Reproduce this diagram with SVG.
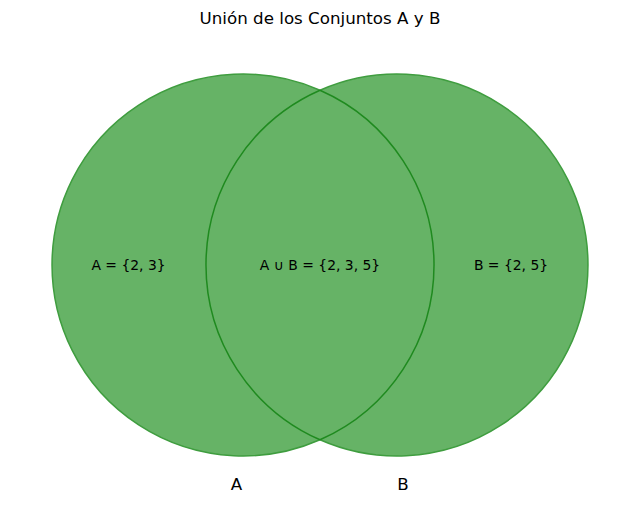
<svg xmlns="http://www.w3.org/2000/svg" width="640" height="508" viewBox="0 0 640 508">
<style>
.fill{fill:#66b366;stroke:none}
.outer{fill:none;stroke:#3f9d3f;stroke-width:1.5}
.inner{fill:none;stroke:#1f8a1f;stroke-width:1.5}
.lbl{font-family:"DejaVu Sans",sans-serif;font-size:13.9px;fill:#000;text-anchor:middle;dominant-baseline:central}
.set{font-family:"DejaVu Sans",sans-serif;font-size:16.7px;fill:#000;text-anchor:middle;dominant-baseline:central}
.title{font-family:"DejaVu Sans",sans-serif;font-size:16.7px;fill:#000;text-anchor:middle;dominant-baseline:central}
</style>
<rect width="640" height="508" fill="#fff"/>
<text class="title" x="320" y="18">Unión de los Conjuntos A y B</text>
<g id="setA">
<circle class="fill" cx="243" cy="265" r="191"/>
</g>
<g id="setB">
<circle class="fill" cx="397" cy="265" r="191"/>
</g>
<g id="connectors">
<path class="outer" d="M320,90.2 A191,191 0 1,0 320,439.8 A191,191 0 1,0 320,90.2 Z"/>
<path class="inner" d="M320,90.2 A191,191 0 0,1 320,439.8"/>
<path class="inner" d="M320,90.2 A191,191 0 0,0 320,439.8"/>
</g>
<g id="labels">
<text class="lbl" x="128.5" y="265">A = {2, 3}</text>
<text class="lbl" x="320" y="265">A ∪ B = {2, 3, 5}</text>
<text class="lbl" x="511" y="265">B = {2, 5}</text>
<text class="set" x="236.5" y="484">A</text>
<text class="set" x="403" y="484">B</text>
</g>
</svg>
